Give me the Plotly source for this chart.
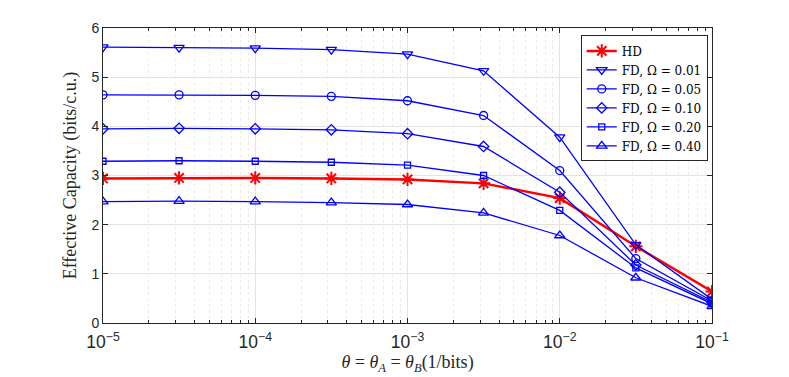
import numpy as np
import plotly.graph_objects as go

# theta values (1/bits)
theta = [1e-5, 3.16e-5, 1e-4, 3.16e-4, 1e-3, 3.16e-3, 1e-2, 3.16e-2, 1e-1]

# effective capacity (bits/c.u.)
hd = [2.94, 2.95, 2.95, 2.94, 2.92, 2.84, 2.54, 1.56, 0.64]
fd_001 = [5.61, 5.60, 5.59, 5.56, 5.47, 5.13, 3.78, 1.59, 0.48]
fd_005 = [4.64, 4.64, 4.63, 4.61, 4.52, 4.22, 3.10, 1.31, 0.45]
fd_010 = [3.95, 3.96, 3.95, 3.93, 3.85, 3.59, 2.66, 1.18, 0.42]
fd_020 = [3.29, 3.30, 3.29, 3.27, 3.21, 3.00, 2.29, 1.12, 0.39]
fd_040 = [2.47, 2.48, 2.47, 2.45, 2.41, 2.24, 1.78, 0.92, 0.34]

fd_series = [
    ("FD, Ω = 0.01", fd_001, "triangle-down-open", 9),
    ("FD, Ω = 0.05", fd_005, "circle-open", 8),
    ("FD, Ω = 0.10", fd_010, "diamond-open", 8),
    ("FD, Ω = 0.20", fd_020, "square-open", 6),
    ("FD, Ω = 0.40", fd_040, "triangle-up-open", 9),
]

fig = go.Figure()

fig.add_trace(go.Scatter(x=theta, y=hd, mode="lines+markers", name="HD",
                         line=dict(color="#ff0000", width=2.5),
                         marker=dict(symbol="asterisk-open", size=11,
                                     line=dict(color="#ff0000", width=2))))

for name, vals, sym, sz in fd_series:
    fig.add_trace(go.Scatter(x=theta, y=vals, mode="lines+markers", name=name,
                             line=dict(color="#0000ff", width=1.3),
                             marker=dict(symbol=sym, size=sz,
                                         line=dict(color="#0000ff", width=1.3))))

axis_common = dict(showline=True, linecolor="#262626", linewidth=1, mirror="ticks",
                   ticks="inside", ticklen=5, tickcolor="#262626",
                   showgrid=True, gridcolor="#e3e3e3", gridwidth=1,
                   zeroline=False, automargin=False,
                   tickfont=dict(family="Liberation Sans, Arial", size=14, color="#262626"))

title_font = dict(family="Liberation Serif, DejaVu Serif", size=18, color="#262626")

# page body has an 8px margin, so margins are shifted to compensate
fig.update_xaxes(type="log", range=[-5, -1], dtick=1, exponentformat="power",
                 ticklabelstandoff=4,
                 minor=dict(dtick="D1", showgrid=True, gridcolor="#ececec",
                            griddash="dot", ticks="inside", ticklen=3, tickcolor="#262626"),
                 title=dict(text="<i>θ</i> = <i>θ</i><sub><i>A</i></sub> = <i>θ</i><sub><i>B</i></sub>(1/bits)",
                            font=title_font, standoff=1),
                 **axis_common)
fig.update_yaxes(range=[0, 6], dtick=1,
                 title=dict(text="Effective Capacity (bits/c.u.)", font=title_font, standoff=10),
                 **axis_common)

fig.update_layout(width=789, height=377,
                  margin=dict(l=95, r=85, t=20, b=62),
                  paper_bgcolor="white", plot_bgcolor="white",
                  legend=dict(x=0.993, y=0.975, xanchor="right", yanchor="top",
                              bgcolor="white", bordercolor="#262626", borderwidth=1,
                              font=dict(family="DejaVu Serif", size=12, color="#000"),
                              tracegroupgap=0, itemwidth=30))

fig.write_html("out.html")
